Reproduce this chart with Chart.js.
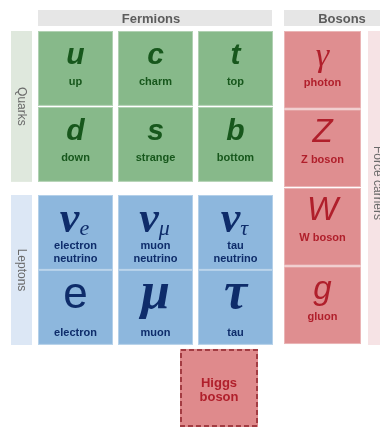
<!DOCTYPE html>
<html>
<head>
<meta charset="utf-8">
<script src="https://cdn.jsdelivr.net/npm/chart.js@4.4.0/dist/chart.umd.min.js"></script>
<style>
  html, body { margin: 0; padding: 0; background: #fff; }
  #wrap { width: 380px; height: 428px; }
</style>
</head>
<body>
<div id="wrap"><canvas id="myChart" width="380" height="428"></canvas></div>
<script>
// labels and particles
const groupLabels = ['Fermions', 'Bosons'];
const familyLabels = ['Quarks', 'Leptons'];
const sideLabel = 'Force carriers';
const upQuarks = ['u', 'c', 't'];
const upQuarkNames = ['up', 'charm', 'top'];
const downQuarks = ['d', 's', 'b'];
const downQuarkNames = ['down', 'strange', 'bottom'];
const neutrinoFlavours = ['e', 'μ', 'τ'];
const neutrinoNames = ['electron', 'muon', 'tau'];
const chargedLeptons = ['e', 'μ', 'τ'];
const chargedLeptonNames = ['electron', 'muon', 'tau'];
const bosons = ['γ', 'Z', 'W', 'g'];
const bosonNames = ['photon', 'Z boson', 'W boson', 'gluon'];
const higgsName = ['Higgs', 'boson'];

// grid units: one fermion column ~80px, one row ~76px
const X_MIN = -0.475, X_MAX = 4.275, Y_MIN = -0.408, Y_MAX = 5.224;
const CELL_W = 0.9375, CELL_H = 0.985;
const ROW_TOP = [0, 1, 2.158, 3.145];
const BOSON_X = 3.075, BOSON_W = 0.9625, BOSON_PITCH = 1.033, BOSON_H = 1.02;

const SANS = '"Liberation Sans", Arial, sans-serif';
const SERIF = '"Liberation Serif", "Times New Roman", serif';

const quarkPts = upQuarks.map((s, i) => ({ x: i, y: ROW_TOP[0], sym: s, kind: 'quark', name: [upQuarkNames[i]] }))
  .concat(downQuarks.map((s, i) => ({ x: i, y: ROW_TOP[1], sym: s, kind: 'quark', name: [downQuarkNames[i]] })));
const leptonPts = neutrinoFlavours.map((s, i) => ({ x: i, y: ROW_TOP[2], sym: 'ν', sub: s, kind: 'nu', name: [neutrinoNames[i], 'neutrino'] }))
  .concat(chargedLeptons.map((s, i) => ({ x: i, y: ROW_TOP[3], sym: s, kind: i === 0 ? 'e' : 'greek', name: [chargedLeptonNames[i]] })));
const bosonPts = bosons.map((s, i) => ({ x: BOSON_X, y: i * BOSON_PITCH, sym: s, kind: i === 0 ? 'gamma' : 'boson', name: [bosonNames[i]] }));
const higgsPts = [{ x: 1.775, y: 4.184, name: higgsName, kind: 'higgs' }];

const symFont = {
  quark: ['bold italic 30px ' + SANS, 33],
  nu: ['bold italic 44px ' + SERIF, 37],
  e: ['44px ' + SANS, 38],
  greek: ['bold italic 52px ' + SERIF, 38],
  gamma: ['italic 34px ' + SERIF, 35],
  boson: ['italic 33px ' + SANS, 32]
};

const cellPlugin = {
  id: 'cells',
  beforeDatasetsDraw(chart) {
    const { ctx, scales: { x, y } } = chart;
    const box = (x0, y0, w, h) => {
      const l = x.getPixelForValue(x0), t = y.getPixelForValue(y0);
      return [l, t, x.getPixelForValue(x0 + w) - l, y.getPixelForValue(y0 + h) - t];
    };
    const fill = (r, c) => { ctx.fillStyle = c; ctx.fillRect(r[0], r[1], r[2], r[3]); };
    const vtext = (s, cx, cy, font, color) => {
      ctx.save();
      ctx.translate(cx, cy);
      ctx.rotate(Math.PI / 2);
      ctx.font = font; ctx.fillStyle = color;
      ctx.textAlign = 'center'; ctx.textBaseline = 'middle';
      ctx.fillText(s, 0, 0);
      ctx.restore();
    };
    ctx.save();
    // headers
    const fh = box(0, -0.276, 2.925, 0.21), bh = box(BOSON_X, -0.276, 1.4, 0.21);
    fill(fh, '#e6e6e6'); fill(bh, '#e6e6e6');
    ctx.font = 'bold 13px ' + SANS; ctx.fillStyle = '#5c5c5c';
    ctx.textAlign = 'center'; ctx.textBaseline = 'middle';
    ctx.fillText(groupLabels[0], fh[0] + fh[2] / 2 - 4, fh[1] + fh[3] / 2 + 1);
    ctx.fillText(groupLabels[1], bh[0] + bh[2] / 2 + 2, bh[1] + bh[3] / 2 + 1);
    // side labels
    const ql = box(-0.3375, ROW_TOP[0], 0.2625, 1.985), ll = box(-0.3375, ROW_TOP[2], 0.2625, 1.974);
    fill(ql, '#dfe8dd'); fill(ll, '#dce7f5');
    vtext(familyLabels[0], ql[0] + ql[2] / 2, ql[1] + ql[3] / 2, '12px ' + SANS, '#6a6a6a');
    vtext(familyLabels[1], ll[0] + ll[2] / 2, ll[1] + ll[3] / 2, '12px ' + SANS, '#6a6a6a');
    const fc = box(4.125, 0, 0.4, 4.132);
    fill(fc, '#f6e3e5');
    vtext(sideLabel, fc[0] + 9, fc[1] + fc[3] / 2 - 5, '12px ' + SANS, '#6a6a6a');

    chart.data.datasets.forEach(ds => {
      ds.data.forEach(p => {
        const r = p.kind === 'higgs' ? box(p.x, p.y, 0.975, 1.026)
          : ds.label === 'Bosons' ? box(p.x, p.y, BOSON_W, BOSON_H)
          : box(p.x, p.y, CELL_W, CELL_H);
        fill(r, ds.backgroundColor);
        const cx = r[0] + r[2] / 2, t = r[1];
        ctx.fillStyle = ds.textColor;
        ctx.textAlign = 'center';
        if (p.kind === 'higgs') {
          ctx.save();
          ctx.strokeStyle = '#a33c42'; ctx.lineWidth = 2; ctx.setLineDash([5, 3]);
          ctx.strokeRect(r[0] + 1, r[1] + 1, r[2] - 2, r[3] - 2);
          ctx.restore();
          ctx.font = 'bold 13px ' + SANS; ctx.textBaseline = 'middle';
          p.name.forEach((n, k) => ctx.fillText(n, cx, t + 34 + k * 14));
          return;
        }
        ctx.strokeStyle = 'rgba(255,255,255,0.35)'; ctx.lineWidth = 1;
        ctx.strokeRect(r[0] + 0.5, r[1] + 0.5, r[2] - 1, r[3] - 1);
        const [font, base] = symFont[p.kind];
        ctx.font = font; ctx.textBaseline = 'alphabetic';
        if (p.kind === 'nu') {
          const subFont = 'italic 22px ' + SERIF;
          const nw = ctx.measureText(p.sym).width;
          ctx.font = subFont;
          const sw = ctx.measureText(p.sub).width;
          const x0 = cx - (nw + sw) / 2 - 1;
          ctx.textAlign = 'left';
          ctx.font = font; ctx.fillText(p.sym, x0, t + base);
          ctx.font = subFont; ctx.fillText(p.sub, x0 + nw, t + base + 3);
          ctx.textAlign = 'center';
        } else {
          ctx.fillText(p.sym, cx, t + base);
        }
        ctx.font = 'bold 11px ' + SANS; ctx.textBaseline = 'middle';
        const ny = p.kind === 'nu' ? 51 : p.kind === 'quark' ? 51 : p.kind === 'gamma' ? 52 : p.kind === 'boson' ? 50 : 63;
        p.name.forEach((n, k) => ctx.fillText(n, cx, t + ny + k * 13));
      });
    });
    ctx.restore();
  }
};

new Chart(document.getElementById('myChart'), {
  type: 'scatter',
  data: {
    datasets: [
      { label: 'Quarks', data: quarkPts, backgroundColor: '#87b98a', textColor: '#17571c', pointRadius: 0 },
      { label: 'Leptons', data: leptonPts, backgroundColor: '#8db7dd', textColor: '#0e2c6a', pointRadius: 0 },
      { label: 'Bosons', data: bosonPts, backgroundColor: '#df8e90', textColor: '#b01f2b', pointRadius: 0 },
      { label: 'Higgs', data: higgsPts, backgroundColor: '#df8a8c', textColor: '#b01f2b', pointRadius: 0 }
    ]
  },
  options: {
    responsive: false,
    animation: false,
    layout: { padding: 0 },
    plugins: { legend: { display: false }, tooltip: { enabled: false } },
    scales: {
      x: { type: 'linear', min: X_MIN, max: X_MAX, display: false },
      y: { type: 'linear', min: Y_MIN, max: Y_MAX, reverse: true, display: false }
    }
  },
  plugins: [cellPlugin]
});
</script>
</body>
</html>
